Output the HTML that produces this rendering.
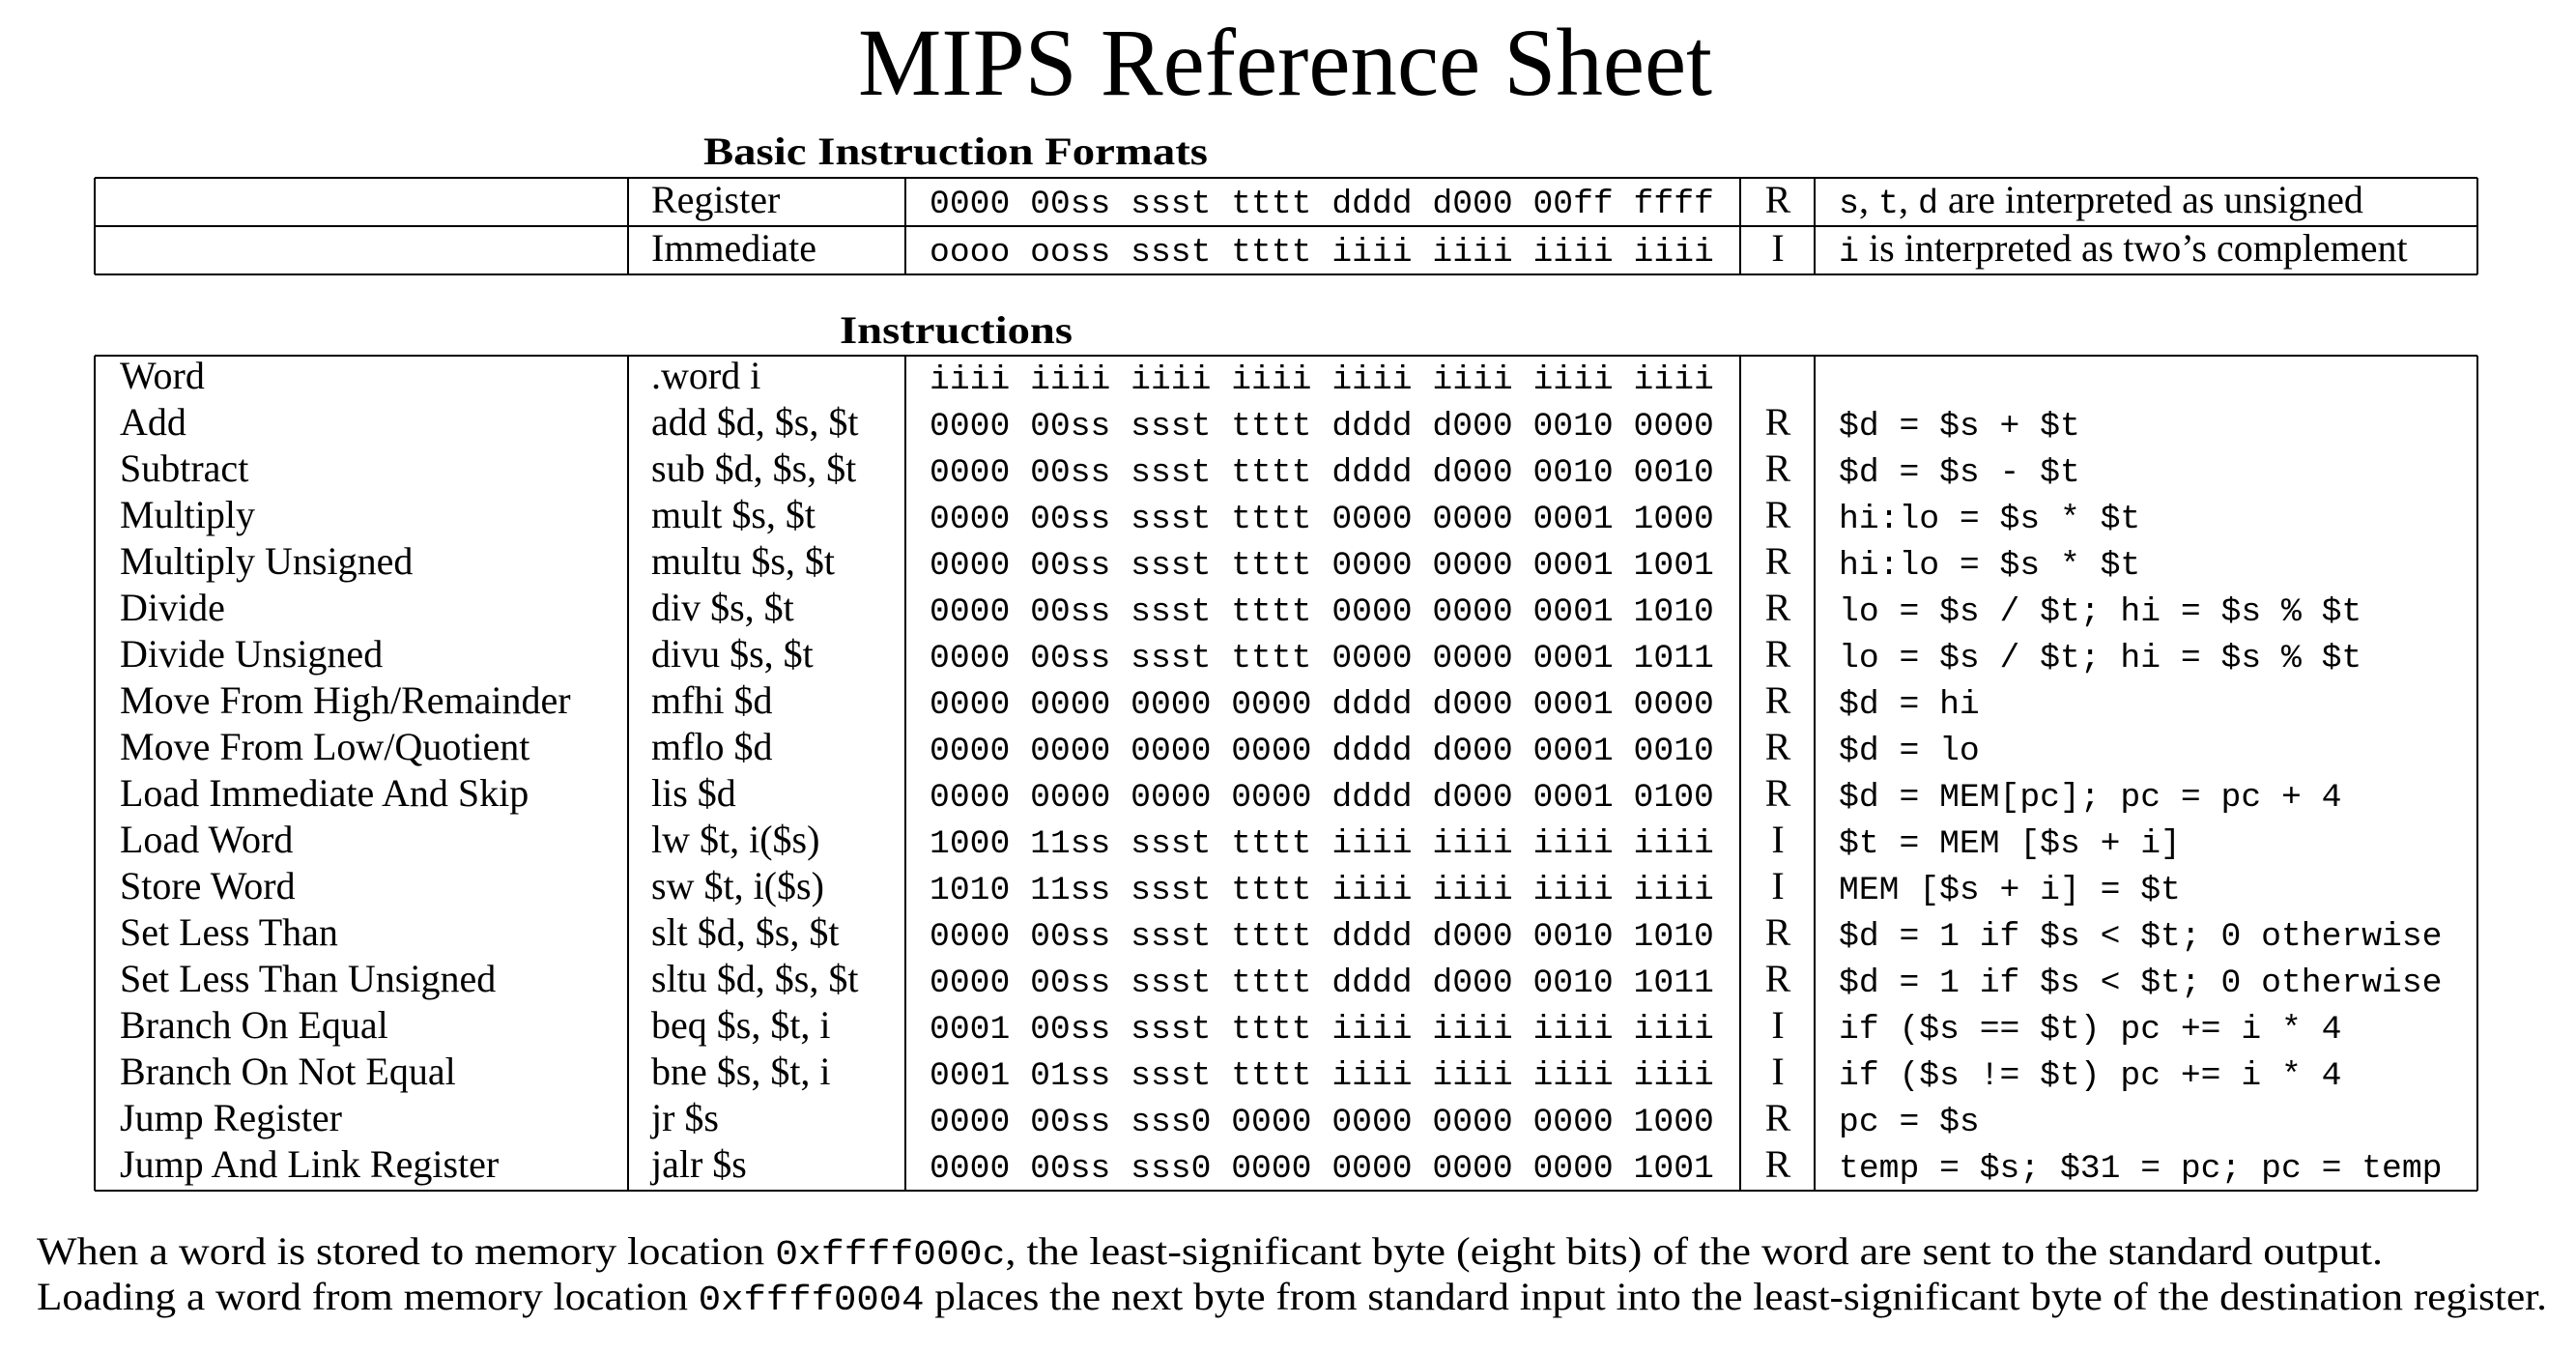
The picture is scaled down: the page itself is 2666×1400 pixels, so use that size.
<!DOCTYPE html>
<html><head><meta charset="utf-8"><style>
html,body{margin:0;padding:0;background:#fff}
svg{display:block}
.serif{font-family:"Liberation Serif",serif;fill:#000}
.mono{font-family:"Liberation Mono",monospace;fill:#000}
</style></head><body>
<svg id="sheet" width="2666" height="1400" viewBox="0 0 2666 1400" xmlns="http://www.w3.org/2000/svg">
<text class="serif" x="888" y="98" font-size="100" textLength="884" lengthAdjust="spacingAndGlyphs">MIPS Reference Sheet</text>
<text class="serif" x="728" y="170" font-size="40" font-weight="bold" textLength="522" lengthAdjust="spacingAndGlyphs">Basic Instruction Formats</text>
<g id="fmt" stroke="#000" stroke-width="2" fill="none"></g>
<text class="serif" x="869" y="355" font-size="40" font-weight="bold" textLength="241" lengthAdjust="spacingAndGlyphs">Instructions</text>
<g id="ins" stroke="#000" stroke-width="2" fill="none"></g>
<g id="rows"></g>
<text class="serif" x="38" y="1308" font-size="40" textLength="2428" lengthAdjust="spacingAndGlyphs">When a word is stored to memory location <tspan class="mono" font-size="36">0xffff000c</tspan>, the least-significant byte (eight bits) of the word are sent to the standard output.</text>
<text class="serif" x="38" y="1355" font-size="40" textLength="2598" lengthAdjust="spacingAndGlyphs">Loading a word from memory location <tspan class="mono" font-size="36">0xffff0004</tspan> places the next byte from standard input into the least-significant byte of the destination register.</text>
</svg>
<script>
const names=["Word","Add","Subtract","Multiply","Multiply Unsigned","Divide","Divide Unsigned","Move From High/Remainder","Move From Low/Quotient","Load Immediate And Skip","Load Word","Store Word","Set Less Than","Set Less Than Unsigned","Branch On Equal","Branch On Not Equal","Jump Register","Jump And Link Register"];
const syntax=[".word i","add $d, $s, $t","sub $d, $s, $t","mult $s, $t","multu $s, $t","div $s, $t","divu $s, $t","mfhi $d","mflo $d","lis $d","lw $t, i($s)","sw $t, i($s)","slt $d, $s, $t","sltu $d, $s, $t","beq $s, $t, i","bne $s, $t, i","jr $s","jalr $s"];
const encodings=["iiii iiii iiii iiii iiii iiii iiii iiii","0000 00ss ssst tttt dddd d000 0010 0000","0000 00ss ssst tttt dddd d000 0010 0010","0000 00ss ssst tttt 0000 0000 0001 1000","0000 00ss ssst tttt 0000 0000 0001 1001","0000 00ss ssst tttt 0000 0000 0001 1010","0000 00ss ssst tttt 0000 0000 0001 1011","0000 0000 0000 0000 dddd d000 0001 0000","0000 0000 0000 0000 dddd d000 0001 0010","0000 0000 0000 0000 dddd d000 0001 0100","1000 11ss ssst tttt iiii iiii iiii iiii","1010 11ss ssst tttt iiii iiii iiii iiii","0000 00ss ssst tttt dddd d000 0010 1010","0000 00ss ssst tttt dddd d000 0010 1011","0001 00ss ssst tttt iiii iiii iiii iiii","0001 01ss ssst tttt iiii iiii iiii iiii","0000 00ss sss0 0000 0000 0000 0000 1000","0000 00ss sss0 0000 0000 0000 0000 1001"];
const kinds=["","R","R","R","R","R","R","R","R","R","I","I","R","R","I","I","R","R"];
const semantics=["","$d = $s + $t","$d = $s - $t","hi:lo = $s * $t","hi:lo = $s * $t","lo = $s / $t; hi = $s % $t","lo = $s / $t; hi = $s % $t","$d = hi","$d = lo","$d = MEM[pc]; pc = pc + 4","$t = MEM [$s + i]","MEM [$s + i] = $t","$d = 1 if $s < $t; 0 otherwise","$d = 1 if $s < $t; 0 otherwise","if ($s == $t) pc += i * 4","if ($s != $t) pc += i * 4","pc = $s","temp = $s; $31 = pc; pc = temp"];
const fmtNames=["Register","Immediate"];
const fmtEnc=["0000 00ss ssst tttt dddd d000 00ff ffff","oooo ooss ssst tttt iiii iiii iiii iiii"];
const fmtKinds=["R","I"];

const NS="http://www.w3.org/2000/svg";
const L=98,C1=650,C2=937,C3=1801,C4=1878,R=2564;
function mk(tag,attrs,parent){const e=document.createElementNS(NS,tag);for(const k in attrs)e.setAttribute(k,attrs[k]);parent.appendChild(e);return e;}
function line(g,x1,y1,x2,y2,name){const e=mk("line",{x1,y1,x2,y2},g);

}
function txt(parent,x,y,s,cls,size,name,anchor){const e=mk("text",{x,y,class:cls,"font-size":size},parent);if(anchor)e.setAttribute("text-anchor",anchor);e.textContent=s;


return e;}

const fg=document.getElementById("fmt");
const fTop=184,fMid=234,fBot=284;
line(fg,L,fTop,R,fTop,"table-border");line(fg,L,fMid,R,fMid,"row-divider");line(fg,L,fBot,R,fBot,"table-border");
[L,C1,C2,C3,C4,R].forEach(x=>line(fg,x,fTop,x,fBot,"column-divider"));
const svg=document.getElementById("sheet");
fmtNames.forEach((n,i)=>{const y=220+i*50;
txt(svg,674,y,n,"serif",40,"format-name");
txt(svg,962,y,fmtEnc[i],"mono",34.7,"format-encoding");
txt(svg,1840,y,fmtKinds[i],"serif",40,"format-type","middle");});
const d1=mk("text",{x:1903,y:220,class:"serif","font-size":40},svg);


d1.innerHTML='<tspan class="mono" font-size="35">s</tspan>, <tspan class="mono" font-size="35">t</tspan>, <tspan class="mono" font-size="35">d</tspan> are interpreted as unsigned';
const d2=mk("text",{x:1903,y:270,class:"serif","font-size":40},svg);


d2.innerHTML='<tspan class="mono" font-size="35">i</tspan> is interpreted as two\u2019s complement';

const ig=document.getElementById("ins");
const iTop=368,iBot=1232;
line(ig,L,iTop,R,iTop,"table-border");line(ig,L,iBot,R,iBot,"table-border");
[L,C1,C2,C3,C4,R].forEach(x=>line(ig,x,iTop,x,iBot,"column-divider"));
const rg=document.getElementById("rows");
const rowY=i=>402+i*48;
names.forEach((n,i)=>{const y=rowY(i);
txt(rg,124,y,n,"serif",40,"instruction-name");
txt(rg,674,y,syntax[i],"serif",40,"instruction-syntax");
txt(rg,962,y,encodings[i],"mono",34.7,"instruction-encoding");
txt(rg,1840,y,kinds[i],"serif",40,"instruction-type","middle");
txt(rg,1903,y,semantics[i],"mono",34.7,"instruction-semantics");});
</script>
</body></html>
